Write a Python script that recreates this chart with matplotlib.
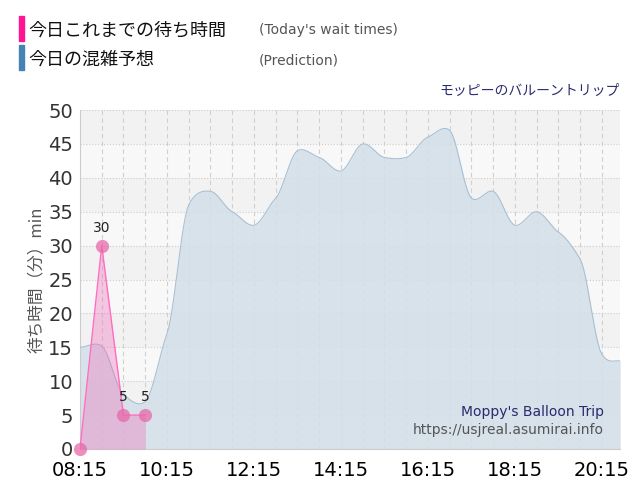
import numpy as np
import matplotlib
matplotlib.use("Agg")
import matplotlib.pyplot as plt

plt.rcParams['font.family'] = ['Noto Sans CJK JP', 'DejaVu Sans']

pred_times = [8.25, 8.75, 9.25, 9.75, 10.25, 10.75, 11.25, 11.75, 12.25, 12.75, 13.25, 13.75,
              14.25, 14.75, 15.25, 15.75, 16.25, 16.75, 17.25, 17.75, 18.25, 18.75, 19.25,
              19.75, 20.25, 20.67]
pred_vals = [15, 15.2, 8, 7, 17, 36, 38, 35, 33, 37, 44, 43, 41, 45, 43, 43, 46, 47, 37, 38,
             33, 35, 32, 28, 14, 13]
act_times = [8.25, 8.75, 9.25, 9.75]
act_vals = [0, 30, 5, 5]
xtick_labels = ["08:15", "10:15", "12:15", "14:15", "16:15", "18:15", "20:15"]

def smooth(x, y, n=12):
    x = np.asarray(x, float); y = np.asarray(y, float)
    xs, ys = [], []
    for i in range(len(x) - 1):
        p0 = y[max(i-1, 0)]; p1 = y[i]; p2 = y[i+1]; p3 = y[min(i+2, len(y)-1)]
        t = np.linspace(0, 1, n, endpoint=False)
        m1 = (p2 - p0) / 2 * 0.6; m2 = (p3 - p1) / 2 * 0.6
        h00 = 2*t**3 - 3*t**2 + 1; h10 = t**3 - 2*t**2 + t
        h01 = -2*t**3 + 3*t**2; h11 = t**3 - t**2
        ys.extend(h00*p1 + h10*m1 + h01*p2 + h11*m2)
        xs.extend(x[i] + t*(x[i+1]-x[i]))
    xs.append(x[-1]); ys.append(y[-1])
    return np.array(xs), np.array(ys)

fig = plt.figure(figsize=(6.4, 5), dpi=100)
ax = fig.add_axes([0.125, 0.102, 0.844, 0.678])
xmin, xmax = 8.25, 20.67
ax.set_xlim(xmin, xmax); ax.set_ylim(0, 50)
for k in range(10):
    ax.axhspan(k*5, k*5+5, color='#f2f2f2' if k % 2 == 1 else '#f8f8f8', zorder=0, lw=0)
for v in range(5, 51, 5):
    ax.axhline(v, color='#cccccc', lw=0.8, ls=':', zorder=1)
for h in np.arange(8.75, 20.7, 0.5):
    ax.axvline(h, color='#d0d0d0', lw=0.8, ls=(0, (4, 3)), zorder=1)

sx, sy = smooth(pred_times, pred_vals)
ax.fill_between(sx, sy, color='#d3dfe8', alpha=0.85, zorder=2, lw=0)
ax.plot(sx, sy, color='#a9c0d3', lw=0.8, zorder=3)

ax.fill_between(act_times, act_vals, color='#f06ab8', alpha=0.35, zorder=4, lw=0)
ax.plot(act_times, act_vals, color='#ff6ec0', lw=1, zorder=5)
ax.scatter(act_times, act_vals, s=90, color='#e76aa9', alpha=0.75, zorder=6, lw=0, clip_on=False)
for t, v in zip(act_times, act_vals):
    if v > 0:
        ax.text(t, v + 1.6, str(v), ha='center', va='bottom', fontsize=10, color='#222222',
                zorder=7, family='DejaVu Sans')

ax.set_xticks([8.25 + 2*i for i in range(7)])
ax.set_xticklabels(xtick_labels, fontsize=14, color='black', family='DejaVu Sans')
ax.set_yticks(range(0, 51, 5))
ax.set_yticklabels([str(v) for v in range(0, 51, 5)], family='DejaVu Sans')
ax.tick_params(axis='y', labelsize=14, labelcolor='#333333', length=0, pad=5)
ax.tick_params(axis='x', length=0, pad=9)
for s in ['top', 'right']:
    ax.spines[s].set_visible(False)
ax.spines['left'].set_color('#cccccc')
ax.spines['bottom'].set_color('#cccccc')
ax.set_ylabel('待ち時間（分）min', fontsize=12, color='#555555', labelpad=2)

fig.text(0.969, 0.818, 'モッピーのバルーントリップ', ha='right', va='center', fontsize=10, color='#2a2a6e')
ax.text(0.97, 0.11, "Moppy's Balloon Trip", transform=ax.transAxes, ha='right', va='center',
        fontsize=10, color='#2a2a6e', zorder=8, family='DejaVu Sans')
ax.text(0.97, 0.055, "https://usjreal.asumirai.info", transform=ax.transAxes, ha='right', va='center',
        fontsize=10, color='#555555', zorder=8, family='DejaVu Sans')

fig.patches.append(plt.Rectangle((0.03, 0.918), 0.008, 0.05, transform=fig.transFigure, color='#ff1493'))
fig.patches.append(plt.Rectangle((0.03, 0.86), 0.008, 0.05, transform=fig.transFigure, color='#4682b4'))
fig.text(0.045, 0.94, '今日これまでの待ち時間', fontsize=13, va='center', color='#111111')
fig.text(0.045, 0.88, '今日の混雑予想', fontsize=13, va='center', color='#111111')
fig.text(0.405, 0.94, "(Today's wait times)", fontsize=10, va='center', color='#555555', family='DejaVu Sans')
fig.text(0.405, 0.88, "(Prediction)", fontsize=10, va='center', color='#555555', family='DejaVu Sans')

fig.savefig('out.png', dpi=100)
